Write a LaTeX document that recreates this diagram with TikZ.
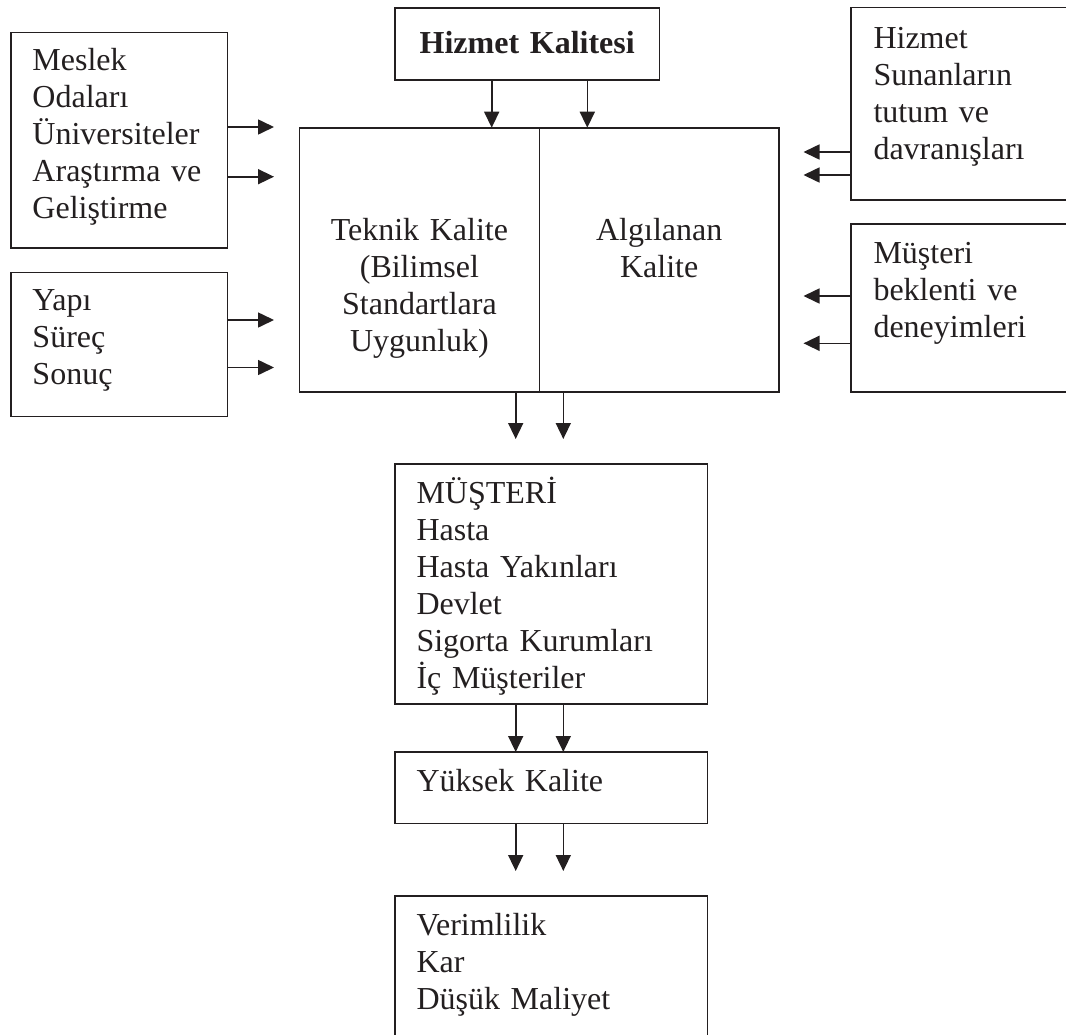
\documentclass[tikz,border=0pt]{standalone}
\usepackage{fontspec}
\setmainfont{Liberation Serif}
\usetikzlibrary{arrows.meta}
\definecolor{ink}{RGB}{35,31,32}
\begin{document}
\begin{tikzpicture}[x=0.5pt,y=-0.5pt,
  box/.style={draw=ink, line width=0.8pt, rectangle, inner sep=0pt, outer sep=0pt, anchor=north west},
  lbl/.style={inner sep=0pt, outer sep=0pt, text=ink, font=\fontsize{16pt}{18.5pt}\selectfont,
              text width=170pt, align=left, anchor=base west},
  mid/.style={lbl, text width=118pt, align=center, anchor=base},
  arr/.style={draw=ink, line width=0.8pt, -{Triangle[length=8pt,width=7.5pt]}}]

% page frame: boxes on the right and at the bottom run off the page
\useasboundingbox (0,0) rectangle (1066,1034);
\clip (0,0) rectangle (1066,1034);

% boxes
\node[box, minimum width=108.15pt, minimum height=107.7pt] (meslek) at (11,32.3) {};
\node[box, minimum width=108.15pt, minimum height=72.1pt]  (yapi)   at (11,272.3) {};
\node[box, minimum width=132.15pt, minimum height=36pt]    (hk)     at (395,8) {};
\node[box, minimum width=119.9pt,  minimum height=132pt]   (tek)    at (299.5,127.7) {};
\node[box, minimum width=119.85pt, minimum height=132pt]   (alg)    at (539.3,127.7) {};
\node[box, minimum width=120pt,    minimum height=96.25pt] (hsun)   at (851,7.5) {};
\node[box, minimum width=120pt,    minimum height=83.85pt] (mbek)   at (851,224) {};
\node[box, minimum width=156.15pt, minimum height=120pt]   (mus)    at (395,464) {};
\node[box, minimum width=156.15pt, minimum height=35.75pt] (yk)     at (395,752) {};
\node[box, minimum width=156.15pt, minimum height=80pt]    (ver)    at (395,896) {};

% texts
\node[lbl] (tmeslek) at (32.5,70.7) {Meslek\\Odaları\\Üniversiteler\\Araştırma ve\\Geliştirme};
\node[lbl] (tyapi)   at (32.5,310)  {Yapı\\Süreç\\Sonuç};
\node[mid, font=\fontsize{16pt}{18.5pt}\selectfont\bfseries, text width=130pt] (thk) at (527.2,53) {Hizmet Kalitesi};
\node[mid] (ttek) at (419.4,240.7) {Teknik Kalite\\(Bilimsel\\Standartlara\\Uygunluk)};
\node[mid] (talg) at (659.2,240.7) {Algılanan\\Kalite};
\node[lbl] (thsun) at (873.5,48.5) {Hizmet\\Sunanların\\tutum ve\\davranışları};
\node[lbl] (tmbek) at (873.5,263.3) {Müşteri\\beklenti ve\\deneyimleri};
\node[lbl] (tmus)  at (416.5,503) {MÜŞTERİ\\Hasta\\Hasta Yakınları\\Devlet\\Sigorta Kurumları\\İç Müşteriler};
\node[lbl] (tyk)   at (416.5,791) {Yüksek Kalite};
\node[lbl] (tver)  at (416.5,935) {Verimlilik\\Kar\\Düşük Maliyet};

% free ends of the connectors
\coordinate (l1) at (274,127);
\coordinate (l2) at (274,176.7);
\coordinate (l3) at (274,320);
\coordinate (l4) at (274,367.5);
\coordinate (r1) at (803.5,152);
\coordinate (r2) at (803.5,175);
\coordinate (r3) at (803.5,296);
\coordinate (r4) at (803.5,343.3);
\coordinate (xa) at (491.7,0);
\coordinate (xb) at (587.3,0);
\coordinate (c1) at (515.7,439);
\coordinate (c2) at (563.3,439);
\coordinate (e1) at (515.7,871);
\coordinate (e2) at (563.3,871);

% inputs from the left
\draw[arr] (meslek.east |- l1) -- (l1);
\draw[arr] (meslek.east |- l2) -- (l2);
\draw[arr] (yapi.east |- l3) -- (l3);
\draw[arr] (yapi.east |- l4) -- (l4);

% inputs from the right
\draw[arr] (hsun.west |- r1) -- (r1);
\draw[arr] (hsun.west |- r2) -- (r2);
\draw[arr] (mbek.west |- r3) -- (r3);
\draw[arr] (mbek.west |- r4) -- (r4);

% from the top
\draw[arr] (hk.south -| xa) -- (tek.north -| xa);
\draw[arr] (hk.south -| xb) -- (alg.north -| xb);

% down the middle
\draw[arr] (tek.south -| c1) -- (c1);
\draw[arr] (alg.south -| c2) -- (c2);
\draw[arr] (mus.south -| c1) -- (yk.north -| c1);
\draw[arr] (mus.south -| c2) -- (yk.north -| c2);
\draw[arr] (yk.south -| e1) -- (e1);
\draw[arr] (yk.south -| e2) -- (e2);
\end{tikzpicture}
\end{document}
